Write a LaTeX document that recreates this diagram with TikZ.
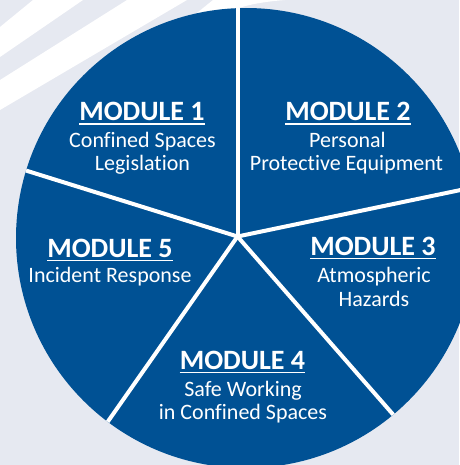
\documentclass[tikz,border=0pt]{standalone}
\usepackage{fontspec}
\setmainfont[Ligatures={NoCommon}]{Carlito}
\definecolor{modblue}{HTML}{005194}
\definecolor{bggray}{HTML}{E6E9F1}
\begin{document}
\begin{tikzpicture}[x=1pt,y=-1pt,
  head/.style={font=\fontsize{28}{30}\selectfont\bfseries, text=white, anchor=base, inner sep=0pt},
  body/.style={font=\fontsize{22}{24}\selectfont, text=white, anchor=base, inner sep=0pt},
  divider/.style={white, line width=4pt},
  uline/.style={white, line width=1.6pt},
  stripe/.style={fill=white, draw=none}]
\useasboundingbox (0,0) rectangle (459,465);
\fill[bggray] (0,0) rectangle (459,465);
% decorative stripes
\fill[stripe] (0,27) -- (33,0) -- (83,0) -- (0,57) -- cycle;
\fill[stripe] (0,80) -- (127,0) -- (187,0) -- (0,110) -- cycle;
\fill[stripe] (213,0) -- (285,0) .. controls (260,2) and (240,6) .. (230,12) -- (40,140) -- cycle;
% main disc
\fill[modblue] (246,238) circle[radius=230pt];
\begin{scope}
  \clip (246,238) circle[radius=230pt];
  \coordinate (hub) at (237.5,236.5);
  \coordinate (e1) at (237.5,-20);
  \coordinate (e2) at (5,164);
  \coordinate (e3) at (475,187);
  \coordinate (e4) at (96,438.5);
  \coordinate (e5) at (411,435);
  \draw[divider] (hub) -- (e1);
  \draw[divider] (hub) -- (e2);
  \draw[divider] (hub) -- (e3);
  \draw[divider] (hub) -- (e4);
  \draw[divider] (hub) -- (e5);
\end{scope}
% module 1
\node[head] (m1h) at (142,120.5) {MODULE 1};
\node[body] (m1a) at (142.5,147) {Confined Spaces};
\node[body] (m1b) at (142.5,171) {Legislation};
% module 2
\node[head] (m2h) at (348,120.5) {MODULE 2};
\node[body] (m2a) at (347.5,147) {Personal};
\node[body] (m2b) at (346.5,171) {Protective Equipment};
% module 3
\node[head] (m3h) at (373,255) {MODULE 3};
\node[body] (m3a) at (374,282) {Atmospheric};
\node[body] (m3b) at (374,306) {Hazards};
% module 4
\node[head] (m4h) at (242.5,369) {MODULE 4};
\node[body] (m4a) at (243,396) {Safe Working};
\node[body] (m4b) at (243,419) {in Confined Spaces};
% module 5
\node[head] (m5h) at (110,257) {MODULE 5};
\node[body] (m5a) at (110,282) {Incident Response};
% underlines
\foreach \h in {m1h,m2h,m3h,m4h,m5h}{
  \draw[uline] ([yshift=-3.6pt]\h.base west) -- ([yshift=-3.6pt]\h.base east);
}
\end{tikzpicture}
\end{document}
